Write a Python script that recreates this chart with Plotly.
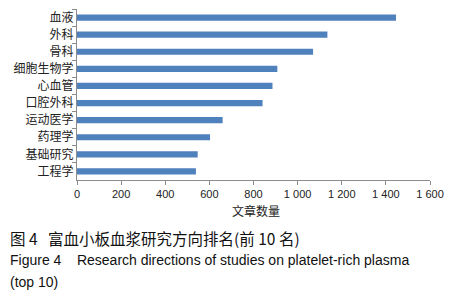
import plotly.graph_objects as go

categories = ["血液", "外科", "骨科", "细胞生物学", "心血管", "口腔外科", "运动医学", "药理学", "基础研究", "工程学"]
article_counts = [1446, 1135, 1070, 908, 886, 841, 660, 603, 547, 539]
x_tick_values = [0, 200, 400, 600, 800, 1000, 1200, 1400, 1600]
x_tick_labels = ["0", "200", "400", "600", "800", "1 000", "1 200", "1 400", "1 600"]

# page body adds an 8px offset; compensate
OFF = 8
W, H = 454 - OFF, 300 - OFF
L = 77 - OFF
R = W - (430 - OFF)
T = 9 - OFF
B = H - (180 - OFF)
plot_h = H - T - B
plot_w = W - L - R

def py(pixel_y):
    return (H - B - (pixel_y - OFF)) / plot_h

def px(pixel_x):
    return (pixel_x - OFF - L) / plot_w

fig = go.Figure(go.Bar(
    x=article_counts, y=categories, orientation="h",
    marker=dict(color="#4F81BD", line=dict(width=0)),
    width=0.36,
))

axis_color = "#8C8C8C"
fig.update_layout(
    width=W, height=H,
    margin=dict(l=L, r=R, t=T, b=B, autoexpand=False),
    paper_bgcolor="white", plot_bgcolor="white",
    showlegend=False,
    font=dict(family="Liberation Sans, Arial, Noto Sans CJK SC", color="#222222"),
    xaxis=dict(
        range=[0, 1600], tickvals=x_tick_values, ticktext=x_tick_labels,
        showgrid=False, zeroline=False, showline=True, linecolor=axis_color, linewidth=1,
        ticks="outside", ticklen=4, tickcolor=axis_color, automargin=False,
        tickfont=dict(size=11, family="Liberation Sans, Arial", color="#222222"),
    ),
    yaxis=dict(
        categoryorder="array", categoryarray=categories, autorange="reversed",
        showgrid=False, zeroline=False, showline=True, linecolor=axis_color, linewidth=1,
        ticks="outside", ticklen=4, tickcolor=axis_color, tickson="boundaries", automargin=False,
        tickfont=dict(size=12, family="Noto Sans CJK SC", color="#222222"),
    ),
    annotations=[
        dict(text="文章数量", x=px(256), y=py(210), xref="paper", yref="paper",
             showarrow=False, font=dict(size=12, family="Noto Sans CJK SC", color="#222222"),
             xanchor="center", yanchor="middle"),
        dict(text="图 4   富血小板血浆研究方向排名(前 10 名)", x=px(8), y=py(238), xref="paper", yref="paper",
             showarrow=False, font=dict(size=15.5, family="Noto Sans CJK SC", color="#111111"),
             xanchor="left", yanchor="middle"),
        dict(text="Figure 4    Research directions of studies on platelet-rich plasma", x=px(8), y=py(260),
             xref="paper", yref="paper",
             showarrow=False, font=dict(size=14, family="Liberation Sans, Arial", color="#111111"),
             xanchor="left", yanchor="middle"),
        dict(text="(top 10)", x=px(8), y=py(282), xref="paper", yref="paper",
             showarrow=False, font=dict(size=14, family="Liberation Sans, Arial", color="#111111"),
             xanchor="left", yanchor="middle"),
    ],
)

fig.write_html("out.html")
